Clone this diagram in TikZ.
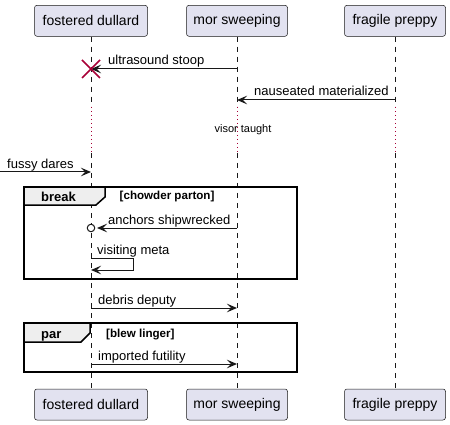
\documentclass[tikz,border=0pt]{standalone}
\usepackage{fontspec}
\setmainfont{Liberation Sans}
\usetikzlibrary{arrows.meta,positioning}

\definecolor{partfill}{HTML}{E2E2F0}
\definecolor{umlline}{HTML}{181818}
\definecolor{umlred}{HTML}{A80036}
\definecolor{tabfill}{HTML}{EEEEEE}

\begin{document}
\begin{tikzpicture}[
    x=1pt, y=-1pt,
    % GLOBAL CFG
    font=\fontsize{13pt}{15pt}\selectfont,
    >={Stealth[length=10pt,width=8.5pt,inset=4pt]},
    % Styles
    part/.style={% For the participant boxes
        rectangle,
        rounded corners=2.5pt,
        draw=umlline,
        fill=partfill,
        line width=.5pt,
        minimum height=31pt,
        inner sep=0pt,
        font=\fontsize{14pt}{16pt}\selectfont,
        },
    lifeline/.style={% Dashed life lines
        draw=umlline,
        line width=.5pt,
        dash pattern=on 5pt off 5pt,
        },
    delay/.style={% Dotted part of the life lines
        draw=umlred,
        line width=.75pt,
        dash pattern=on 1pt off 3pt,
        },
    msg/.style={% Messages
        ->,
        line width=1pt,
        draw=umlline,
        },
    mylabel/.style={% Message texts
        anchor=base west,
        inner sep=0pt,
        font=\fontsize{13pt}{15pt}\selectfont,
        },
    frame/.style={% For break and par groups
        draw=black,
        line width=1.5pt,
        },
    tab/.style={% Frame title tab
        draw=black,
        fill=tabfill,
        line width=1.5pt,
        },
    tabname/.style={% Frame keyword
        anchor=base west,
        inner sep=0pt,
        font=\bfseries\fontsize{13pt}{15pt}\selectfont,
        },
    guard/.style={% Frame condition
        anchor=base west,
        inner sep=0pt,
        font=\bfseries\fontsize{11.6pt}{13pt}\selectfont,
        },
    ]
\useasboundingbox (0,0) rectangle (450,425);

% Participants, top and bottom
    \node[part, minimum width=113pt] (dullard) at (91,20.8) {fostered dullard};
    \node[part, minimum width=101pt] (sweeping) at (237,20.8) {mor sweeping};
    \node[part, minimum width=101pt] (preppy) at (395,20.8) {fragile preppy};
    \node[part, minimum width=113pt] (dullardB) at (91,404.5) {fostered dullard};
    \node[part, minimum width=101pt] (sweepingB) at (237,404.5) {mor sweeping};
    \node[part, minimum width=101pt] (preppyB) at (395,404.5) {fragile preppy};

% Life lines, with the delay in them
    \coordinate (dullardD1) at (91,107);
    \coordinate (dullardD2) at (91,153);
    \coordinate (sweepingD1) at (237,107);
    \coordinate (sweepingD2) at (237,153);
    \coordinate (preppyD1) at (395,107);
    \coordinate (preppyD2) at (395,153);
    \draw[lifeline] (dullard) -- (dullardD1);
    \draw[delay] (dullardD1) -- (dullardD2);
    \draw[lifeline] (dullardD2) -- (dullardB);
    \draw[lifeline] (sweeping) -- (sweepingD1);
    \draw[delay] (sweepingD1) -- (sweepingD2);
    \draw[lifeline] (sweepingD2) -- (sweepingB);
    \draw[lifeline] (preppy) -- (preppyD1);
    \draw[delay] (preppyD1) -- (preppyD2);
    \draw[lifeline] (preppyD2) -- (preppyB);

% Messages
    \coordinate (m1s) at (237,69);
    \coordinate (m1e) at (91,69);
    \draw[msg] (m1s) -- (m1e);
    \draw[umlred, line width=1.5pt] (82,60) -- (100,78) (82,78) -- (100,60);
    \node[mylabel] (m1) at (108,65) {ultrasound stoop};

    \coordinate (m2s) at (395,100);
    \coordinate (m2e) at (237,100);
    \draw[msg] (m2s) -- (m2e);
    \node[mylabel] (m2) at (254,96) {nauseated materialized};

    \node[font=\fontsize{11pt}{13pt}\selectfont, inner sep=0pt] (delaytxt) at (243,130) {visor taught};

    \coordinate (m3s) at (0,172);
    \coordinate (m3e) at (91,172);
    \draw[msg] (m3s) -- (m3e);
    \node[mylabel] (m3) at (7,168) {fussy dares};

% break group
    \draw[tab] (24,187) -- (105,187) -- (105,197) -- (96,205) -- (24,205) -- cycle;
    \draw[frame] (24,187) rectangle (297,279);
    \node[tabname] (brk) at (41,201.5) {break};
    \node[guard] (brkguard) at (119.5,200) {[chowder parton]};

    \node[circle, draw=umlline, fill=white, line width=1pt, minimum size=7.5pt, inner sep=0pt] (ring) at (91,228) {};
    \coordinate (m4s) at (237,228);
    \coordinate (m4e) at (97,228);
    \draw[msg] (m4s) -- (m4e);
    \node[mylabel] (m4) at (108,224) {anchors shipwrecked};

    \coordinate (m5s) at (91,258);
    \coordinate (m5e) at (91,270);
    \draw[msg] (m5s) -- (133,258) -- (133,270) -- (m5e);
    \node[mylabel] (m5) at (97,254) {visiting meta};

    \coordinate (m6s) at (91,308);
    \coordinate (m6e) at (237,308);
    \draw[msg] (m6s) -- (m6e);
    \node[mylabel] (m6) at (98,304) {debris deputy};

% par group
    \draw[tab] (24,323) -- (90,323) -- (90,333) -- (81,342) -- (24,342) -- cycle;
    \draw[frame] (24,323) rectangle (297,372);
    \node[tabname] (par) at (41,338) {par};
    \node[guard] (parguard) at (106,337.5) {[blew linger]};

    \coordinate (m7s) at (91,364);
    \coordinate (m7e) at (237,364);
    \draw[msg] (m7s) -- (m7e);
    \node[mylabel] (m7) at (98,360) {imported futility};
\end{tikzpicture}
\end{document}
